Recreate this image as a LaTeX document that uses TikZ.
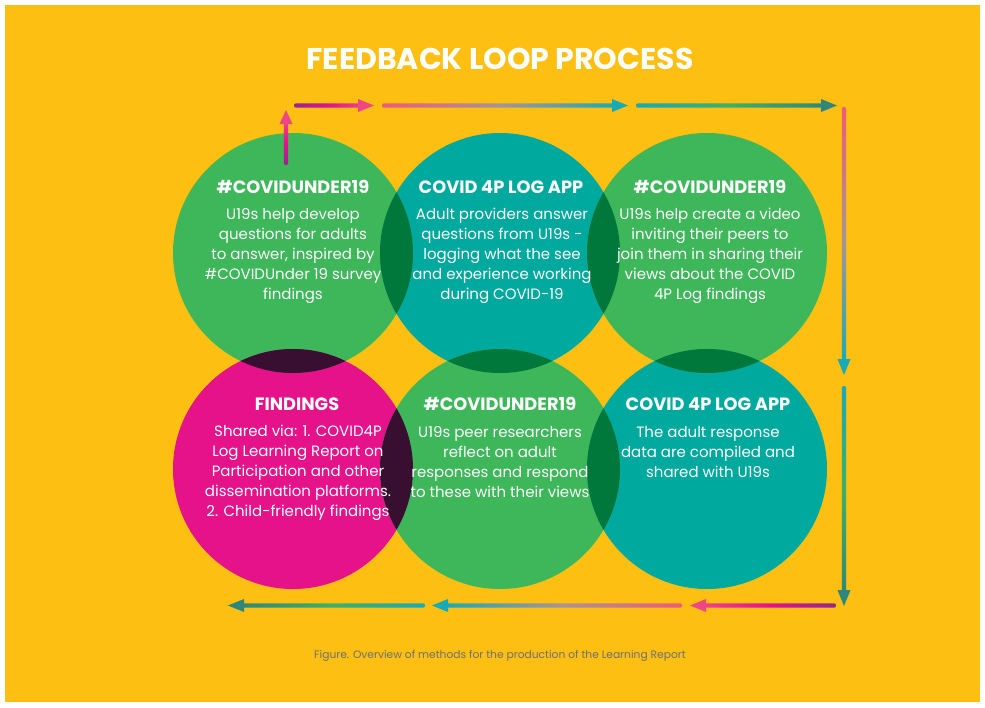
\documentclass[tikz,border=0pt]{standalone}
\usepackage{fontspec}
\setmainfont{Poppins}
\usetikzlibrary{calc}

\definecolor{bgyellow}{HTML}{FCBF12}
\definecolor{cgreen}{HTML}{3DB75A}
\definecolor{cteal}{HTML}{00A99D}
\definecolor{cmag}{HTML}{E5128A}
\definecolor{ovgreen}{HTML}{00783B}
\definecolor{ovpurple}{HTML}{380E31}
\definecolor{apurple}{HTML}{92278F}
\definecolor{apink}{HTML}{EF4686}
\definecolor{asalmon}{HTML}{F05A78}
\definecolor{agray}{HTML}{A89496}
\definecolor{ateal}{HTML}{17AAB8}
\definecolor{amid}{HTML}{3FAF68}
\definecolor{adark}{HTML}{2E877C}
\definecolor{capgray}{HTML}{6D6E71}

% horizontal shaft between two coordinates (left one first)
\newcommand\gradH[5]{%
  \shade[left color=#3, right color=#5, middle color=#4, rounded corners=2pt]
    ($(#1)+(0,-2.2)$) rectangle ($(#2)+(0,2.2)$);}
% vertical shaft between two coordinates (upper one first)
\newcommand\gradV[5]{%
  \shade[top color=#3, bottom color=#5, middle color=#4, rounded corners=2pt]
    ($(#1)+(-2.2,0)$) rectangle ($(#2)+(2.2,0)$);}

\begin{document}
\begin{tikzpicture}[x=1pt,y=-1pt,
  circ/.style={circle, inner sep=0pt, outer sep=0pt, minimum size=240pt},
  head/.style={text=white, inner sep=0pt, font=\bfseries\fontsize{17.8}{20}\selectfont},
  body/.style={text=white, inner sep=0pt, align=center, font=\fontsize{15}{20}\selectfont}]

\useasboundingbox (0,0) rectangle (985,707);
\fill[white] (0,0) rectangle (985,707);
\fill[bgyellow] (5,5) rectangle (980,702);

% title
\node[text=white, font=\bfseries\fontsize{30}{32}\selectfont] (title) at (500,58.5) {FEEDBACK LOOP PROCESS};

% six circles
\node[circ, fill=cgreen] (c1) at (293,253) {};
\node[circ, fill=cteal]  (c2) at (500,253) {};
\node[circ, fill=cgreen] (c3) at (707,253) {};
\node[circ, fill=cmag]   (c4) at (293,469) {};
\node[circ, fill=cgreen] (c5) at (500,469) {};
\node[circ, fill=cteal]  (c6) at (707,469) {};

% darker lens where two circles overlap
\foreach \a/\b/\col in {c1/c2/ovgreen, c2/c3/ovgreen, c4/c5/ovpurple, c5/c6/ovgreen,
                        c1/c4/ovpurple, c2/c5/ovgreen, c3/c6/ovgreen}{
  \begin{scope}
    \clip (\a.center) circle (120pt);
    \fill[\col] (\b.center) circle (120pt);
  \end{scope}
}

% circle texts
\node[head] (h1) at (293,187) {\#COVIDUNDER19};
\node[body] (b1) at (293,255.5) {U19s help develop\\questions for adults\\to answer, inspired by\\\#COVIDUnder 19 survey\\findings};

\node[head] (h2) at (501,187) {COVID 4P LOG APP};
\node[body] (b2) at (502,255.5) {Adult providers answer\\questions from U19s -\\logging what the see\\and experience working\\during COVID-19};

\node[head] (h3) at (710,187) {\#COVIDUNDER19};
\node[body] (b3) at (710,255.5) {U19s help create a video\\inviting their peers to\\join them in sharing their\\views about the COVID\\4P Log findings};

\node[head] (h4) at (297,404) {FINDINGS};
\node[body] (b4) at (298,472.5) {Shared via: 1. COVID4P\\Log Learning Report on\\Participation and other\\dissemination platforms.\\2. Child-friendly findings};

\node[head] (h5) at (500,404) {\#COVIDUNDER19};
\node[body] (b5) at (500,462.5) {U19s peer researchers\\reflect on adult\\responses and respond\\to these with their views};

\node[head] (h6) at (708,404) {COVID 4P LOG APP};
\node[body] (b6) at (708,452.5) {The adult response\\data are compiled and\\shared with U19s};

% loop arrows: start and tip of each segment
\coordinate (u0) at (286,165);   \coordinate (u1) at (286,110);
\coordinate (t0) at (294,105.5); \coordinate (t1) at (374,105.5);
\coordinate (t2) at (382,105.5); \coordinate (t3) at (628,105.5);
\coordinate (t4) at (636,105.5); \coordinate (t5) at (837,105.5);
\coordinate (r0) at (844,107);   \coordinate (r1) at (844,375);
\coordinate (r2) at (844,386);   \coordinate (r3) at (844,606);
\coordinate (d0) at (836,605.5); \coordinate (d1) at (690,605.5);
\coordinate (d2) at (682,605.5); \coordinate (d3) at (432,605.5);
\coordinate (d4) at (425,605.5); \coordinate (d5) at (228,605.5);

% shafts
\gradV{$(u1)+(0,10)$}{u0}{apink}{cmag}{apurple}
\gradH{t0}{$(t1)+(-10,0)$}{apurple}{cmag}{apink}
\gradH{t2}{$(t3)+(-10,0)$}{asalmon}{agray}{ateal}
\gradH{t4}{$(t5)+(-10,0)$}{ateal}{amid}{adark}
\gradV{r0}{$(r1)+(0,-10)$}{asalmon}{agray}{ateal}
\gradV{r2}{$(r3)+(0,-10)$}{ateal}{amid}{adark}
\gradH{$(d1)+(10,0)$}{d0}{apink}{cmag}{apurple}
\gradH{$(d3)+(10,0)$}{d2}{ateal}{agray}{asalmon}
\gradH{$(d5)+(10,0)$}{d4}{adark}{amid}{ateal}

% arrow heads
\fill[apink] (u1) -- ++(-6.5,14) -- ++(13,0) -- cycle;
\fill[apink] (t1) -- ++(-16,-6.5) -- ++(0,13) -- cycle;
\fill[ateal] (t3) -- ++(-16,-6.5) -- ++(0,13) -- cycle;
\fill[adark] (t5) -- ++(-16,-6.5) -- ++(0,13) -- cycle;
\fill[ateal] (r1) -- ++(-6.5,-16) -- ++(13,0) -- cycle;
\fill[adark] (r3) -- ++(-6.5,-16) -- ++(13,0) -- cycle;
\fill[apink] (d1) -- ++(16,-6.5) -- ++(0,13) -- cycle;
\fill[ateal] (d3) -- ++(16,-6.5) -- ++(0,13) -- cycle;
\fill[adark] (d5) -- ++(16,-6.5) -- ++(0,13) -- cycle;

% caption
\node[text=capgray, font=\fontsize{10.7}{12}\selectfont] (cap) at (500,656)
  {Figure. Overview of methods for the production of the Learning Report};
\end{tikzpicture}
\end{document}
